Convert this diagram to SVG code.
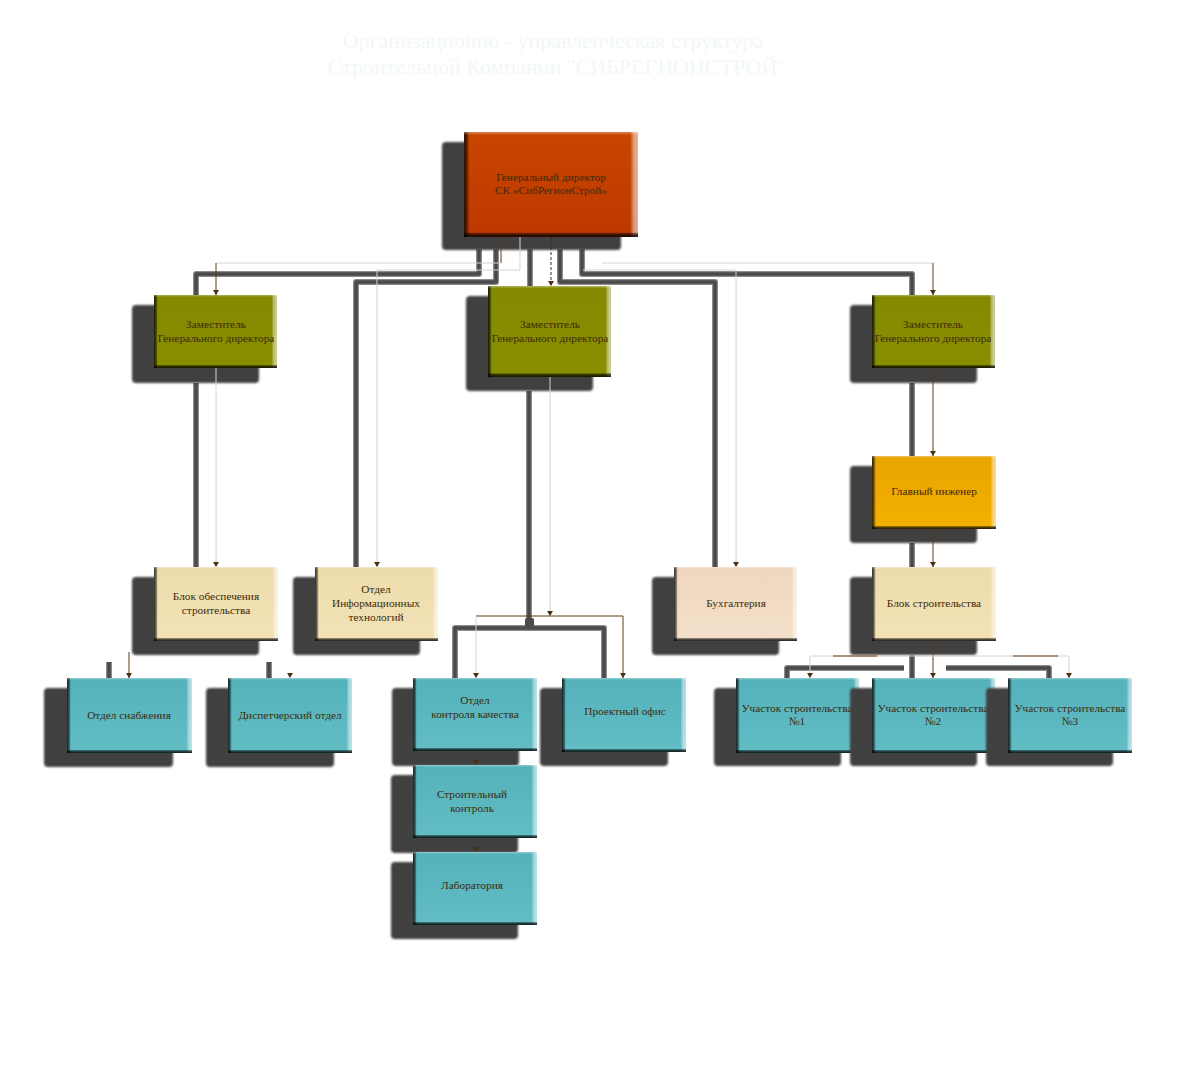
<svg xmlns="http://www.w3.org/2000/svg" width="1200" height="1080" viewBox="0 0 1200 1080">
<defs>
<style>
.title{font-family:"Liberation Serif","Times New Roman",serif;font-size:22px;fill:#f2f7f7;text-anchor:middle}
.t{font-family:"Liberation Serif","Times New Roman",serif;font-size:11.3px;fill:#3d2b0c;text-anchor:middle}
.sh{fill:#404040;filter:url(#soft)}
.red{fill:url(#gRed)}
.olive{fill:url(#gOlive)}
.gold{fill:url(#gGold)}
.tan{fill:url(#gTan)}
.peach{fill:url(#gPeach)}
.teal{fill:url(#gTeal)}
.eh{fill:url(#edgeH)}
.ev{fill:url(#edgeV)}
.thk{fill:none;stroke:#8a8a8a;stroke-width:6;stroke-linejoin:round}
.thk2{fill:none;stroke:#4a4a4a;stroke-width:3.5;stroke-linejoin:round}
.br{fill:none;stroke:#5a3a1a;stroke-width:1}
.fa{fill:none;stroke:#ddd2cc;stroke-width:1}
.no{fill:none;stroke:none}
.da{fill:none;stroke:#3a2a1a;stroke-width:1;stroke-dasharray:3 2}
</style>
<filter id="soft" x="-5%" y="-5%" width="110%" height="110%"><feGaussianBlur stdDeviation="0.8"/></filter>
<marker id="ad" markerWidth="7" markerHeight="6" refX="3.5" refY="5.5" markerUnits="userSpaceOnUse" viewBox="0 0 7 6">
<path d="M0.5,0.5 L6.5,0.5 L3.5,5.5 Z" fill="#4a3010"/>
</marker>
<linearGradient id="gRed" x1="0" y1="0" x2="0" y2="1"><stop offset="0" stop-color="#c94600"/><stop offset="1" stop-color="#bd3800"/></linearGradient>
<linearGradient id="gOlive" x1="0" y1="0" x2="0" y2="1"><stop offset="0" stop-color="#838800"/><stop offset="1" stop-color="#8a8f00"/></linearGradient>
<linearGradient id="gGold" x1="0" y1="0" x2="0" y2="1"><stop offset="0" stop-color="#eaa400"/><stop offset="1" stop-color="#f2b000"/></linearGradient>
<linearGradient id="gTan" x1="0" y1="0" x2="0" y2="1"><stop offset="0" stop-color="#eddcab"/><stop offset="1" stop-color="#f3e2b6"/></linearGradient>
<linearGradient id="gPeach" x1="0" y1="0" x2="0" y2="1"><stop offset="0" stop-color="#efd7bd"/><stop offset="1" stop-color="#f3dfca"/></linearGradient>
<linearGradient id="gTeal" x1="0" y1="0" x2="0" y2="1"><stop offset="0" stop-color="#55b2ba"/><stop offset="1" stop-color="#62bdc5"/></linearGradient>
<linearGradient id="edgeH" x1="0" y1="0" x2="1" y2="0">
<stop offset="0" stop-color="#000" stop-opacity="0.8"/><stop offset="0.018" stop-color="#000" stop-opacity="0.5"/><stop offset="0.03" stop-color="#000" stop-opacity="0"/>
<stop offset="0.955" stop-color="#fff" stop-opacity="0"/><stop offset="0.975" stop-color="#fff" stop-opacity="0.45"/><stop offset="1" stop-color="#fff" stop-opacity="0.6"/>
</linearGradient>
<linearGradient id="edgeV" x1="0" y1="0" x2="0" y2="1">
<stop offset="0" stop-color="#fff" stop-opacity="0.35"/><stop offset="0.03" stop-color="#fff" stop-opacity="0"/>
<stop offset="0.955" stop-color="#000" stop-opacity="0"/><stop offset="0.97" stop-color="#000" stop-opacity="0.6"/><stop offset="1" stop-color="#000" stop-opacity="0.85"/>
</linearGradient>
</defs>
<rect width="1200" height="1080" fill="#ffffff"/>
<g id="title">
<text class="title" x="553" y="48">Организационно - управленческая структура</text>
<text class="title" x="557" y="74">Строительной Компании "СИБРЕГИОНСТРОЙ"</text>
</g>

<g id="connector-shadows">
<g class="thk">
<polyline points="479,249 479,274 196,274 196,296"/>
<polyline points="496,249 496,282 356,282 356,568"/>
<polyline points="530,249 530,287"/>
<polyline points="560,249 560,282 715,282 715,568"/>
<polyline points="582,249 582,274 912,274 912,296"/>
<polyline points="196,383 196,568"/>
<polyline points="529,391 529,628"/>
<polyline points="455,679 455,628 604,628 604,679"/>
<polyline points="912,383 912,457"/>
<polyline points="912,543 912,568"/>
<polyline points="912,655 912,679"/>
<polyline points="787,679 787,668 904,668"/>
<polyline points="946,668 1049,668 1049,679"/>
<polyline points="109,662 109,679"/>
<polyline points="269,662 269,679"/>
</g>
<g class="thk2">
<polyline points="479,249 479,274 196,274 196,296"/>
<polyline points="496,249 496,282 356,282 356,568"/>
<polyline points="530,249 530,287"/>
<polyline points="560,249 560,282 715,282 715,568"/>
<polyline points="582,249 582,274 912,274 912,296"/>
<polyline points="196,383 196,568"/>
<polyline points="529,391 529,628"/>
<polyline points="455,679 455,628 604,628 604,679"/>
<polyline points="912,383 912,457"/>
<polyline points="912,543 912,568"/>
<polyline points="912,655 912,679"/>
<polyline points="787,679 787,668 904,668"/>
<polyline points="946,668 1049,668 1049,679"/>
<polyline points="109,662 109,679"/>
<polyline points="269,662 269,679"/>
</g>
<rect x="525" y="618" width="9" height="9" rx="2" fill="#4a4a4a"/>
</g>

<g id="n-gendir">
<rect class="sh" x="442" y="142" width="179" height="108" rx="4"/>
<rect class="red" x="464" y="132" width="174" height="105"/>
<rect class="eh" x="464" y="132" width="174" height="105"/>
<rect class="ev" x="464" y="132" width="174" height="105"/>
<text class="t" x="551" y="181">Генеральный директор</text>
<text class="t" x="551" y="194">СК «СибРегионСтрой»</text>
</g>
<g id="n-zam1">
<rect class="sh" x="132" y="305" width="127" height="78" rx="4"/>
<rect class="olive" x="154" y="295" width="123" height="73"/>
<rect class="eh" x="154" y="295" width="123" height="73"/>
<rect class="ev" x="154" y="295" width="123" height="73"/>
<text class="t" x="216" y="328">Заместитель</text>
<text class="t" x="216" y="342">Генерального директора</text>
</g>
<g id="n-zam2">
<rect class="sh" x="466" y="296" width="127" height="95" rx="4"/>
<rect class="olive" x="488" y="286" width="123" height="91"/>
<rect class="eh" x="488" y="286" width="123" height="91"/>
<rect class="ev" x="488" y="286" width="123" height="91"/>
<text class="t" x="550" y="328">Заместитель</text>
<text class="t" x="550" y="342">Генерального директора</text>
</g>
<g id="n-zam3">
<rect class="sh" x="850" y="305" width="127" height="78" rx="4"/>
<rect class="olive" x="872" y="295" width="123" height="73"/>
<rect class="eh" x="872" y="295" width="123" height="73"/>
<rect class="ev" x="872" y="295" width="123" height="73"/>
<text class="t" x="933" y="328">Заместитель</text>
<text class="t" x="933" y="342">Генерального директора</text>
</g>
<g id="n-glav">
<rect class="sh" x="850" y="466" width="127" height="77" rx="4"/>
<rect class="gold" x="872" y="456" width="124" height="73"/>
<rect class="eh" x="872" y="456" width="124" height="73"/>
<rect class="ev" x="872" y="456" width="124" height="73"/>
<text class="t" x="934" y="495">Главный инженер</text>
</g>
<g id="n-blokstroit">
<rect class="sh" x="850" y="577" width="127" height="78" rx="4"/>
<rect class="tan" x="872" y="567" width="124" height="74"/>
<rect class="eh" x="872" y="567" width="124" height="74"/>
<rect class="ev" x="872" y="567" width="124" height="74"/>
<text class="t" x="934" y="607">Блок строительства</text>
</g>
<g id="n-bukh">
<rect class="sh" x="652" y="577" width="127" height="78" rx="4"/>
<rect class="peach" x="674" y="567" width="123" height="74"/>
<rect class="eh" x="674" y="567" width="123" height="74"/>
<rect class="ev" x="674" y="567" width="123" height="74"/>
<text class="t" x="736" y="607">Бухгалтерия</text>
</g>
<g id="n-blokobesp">
<rect class="sh" x="132" y="577" width="127" height="78" rx="4"/>
<rect class="tan" x="154" y="567" width="124" height="74"/>
<rect class="eh" x="154" y="567" width="124" height="74"/>
<rect class="ev" x="154" y="567" width="124" height="74"/>
<text class="t" x="216" y="600">Блок обеспечения</text>
<text class="t" x="216" y="614">строительства</text>
</g>
<g id="n-it">
<rect class="sh" x="293" y="577" width="127" height="78" rx="4"/>
<rect class="tan" x="315" y="567" width="123" height="74"/>
<rect class="eh" x="315" y="567" width="123" height="74"/>
<rect class="ev" x="315" y="567" width="123" height="74"/>
<text class="t" x="376" y="593">Отдел</text>
<text class="t" x="376" y="607">Информационных</text>
<text class="t" x="376" y="621">технологий</text>
</g>
<g id="n-snab">
<rect class="sh" x="44" y="688" width="129" height="79" rx="4"/>
<rect class="teal" x="67" y="678" width="125" height="75"/>
<rect class="eh" x="67" y="678" width="125" height="75"/>
<rect class="ev" x="67" y="678" width="125" height="75"/>
<text class="t" x="129" y="719">Отдел снабжения</text>
</g>
<g id="n-disp">
<rect class="sh" x="206" y="688" width="128" height="79" rx="4"/>
<rect class="teal" x="228" y="678" width="124" height="75"/>
<rect class="eh" x="228" y="678" width="124" height="75"/>
<rect class="ev" x="228" y="678" width="124" height="75"/>
<text class="t" x="290" y="719">Диспетчерский отдел</text>
</g>
<g id="n-okk">
<rect class="sh" x="392" y="688" width="127" height="78" rx="4"/>
<rect class="teal" x="413" y="678" width="124" height="73"/>
<rect class="eh" x="413" y="678" width="124" height="73"/>
<rect class="ev" x="413" y="678" width="124" height="73"/>
<text class="t" x="475" y="704">Отдел</text>
<text class="t" x="475" y="718">контроля качества</text>
</g>
<g id="n-proekt">
<rect class="sh" x="540" y="688" width="128" height="78" rx="4"/>
<rect class="teal" x="562" y="678" width="124" height="74"/>
<rect class="eh" x="562" y="678" width="124" height="74"/>
<rect class="ev" x="562" y="678" width="124" height="74"/>
<text class="t" x="625" y="715">Проектный офис</text>
</g>
<g id="n-uch1">
<rect class="sh" x="714" y="688" width="127" height="78" rx="4"/>
<rect class="teal" x="736" y="678" width="123" height="75"/>
<rect class="eh" x="736" y="678" width="123" height="75"/>
<rect class="ev" x="736" y="678" width="123" height="75"/>
<text class="t" x="797" y="712">Участок строительства</text>
<text class="t" x="797" y="725">№1</text>
</g>
<g id="n-uch2">
<rect class="sh" x="850" y="688" width="127" height="78" rx="4"/>
<rect class="teal" x="872" y="678" width="123" height="75"/>
<rect class="eh" x="872" y="678" width="123" height="75"/>
<rect class="ev" x="872" y="678" width="123" height="75"/>
<text class="t" x="933" y="712">Участок строительства</text>
<text class="t" x="933" y="725">№2</text>
</g>
<g id="n-uch3">
<rect class="sh" x="986" y="688" width="127" height="78" rx="4"/>
<rect class="teal" x="1008" y="678" width="124" height="75"/>
<rect class="eh" x="1008" y="678" width="124" height="75"/>
<rect class="ev" x="1008" y="678" width="124" height="75"/>
<text class="t" x="1070" y="712">Участок строительства</text>
<text class="t" x="1070" y="725">№3</text>
</g>
<g id="n-stroikontrol">
<rect class="sh" x="391" y="775" width="127" height="78" rx="4"/>
<rect class="teal" x="413" y="765" width="124" height="73"/>
<rect class="eh" x="413" y="765" width="124" height="73"/>
<rect class="ev" x="413" y="765" width="124" height="73"/>
<text class="t" x="472" y="798">Строительный</text>
<text class="t" x="472" y="812">контроль</text>
</g>
<g id="n-lab">
<rect class="sh" x="391" y="862" width="127" height="77" rx="4"/>
<rect class="teal" x="413" y="852" width="124" height="73"/>
<rect class="eh" x="413" y="852" width="124" height="73"/>
<rect class="ev" x="413" y="852" width="124" height="73"/>
<text class="t" x="472" y="889">Лаборатория</text>
</g>

<g id="connectors">
<polyline class="br" points="501,237 501,263"/>
<polyline class="fa" points="501,263 216,263"/>
<polyline class="br" points="216,263 216,295" marker-end="url(#ad)"/>
<polyline class="fa" points="520,237 520,270 377,270 377,567" marker-end="url(#ad)"/>
<polyline class="da" points="551,237 551,286" marker-end="url(#ad)"/>
<polyline class="fa" points="602,263 933,263"/>
<polyline class="br" points="933,263 933,295" marker-end="url(#ad)"/>
<polyline class="fa" points="583,270 736,270 736,567" marker-end="url(#ad)"/>
<polyline class="fa" points="216,368 216,567" marker-end="url(#ad)"/>
<polyline class="fa" points="550,377 550,616" marker-end="url(#ad)"/>
<polyline class="br" points="476,616 623,616 623,678" marker-end="url(#ad)"/>
<polyline class="fa" points="476,616 476,678" marker-end="url(#ad)"/>
<polyline class="br" points="933,368 933,456" marker-end="url(#ad)"/>
<polyline class="br" points="933,529 933,567" marker-end="url(#ad)"/>
<polyline class="br" points="933,641 933,678" marker-end="url(#ad)"/>
<polyline class="fa" points="810,656 1069,656"/>
<polyline class="fa" points="810,656 810,678" marker-end="url(#ad)"/>
<polyline class="fa" points="1069,656 1069,678" marker-end="url(#ad)"/>
<polyline class="br" points="833,656 877,656"/>
<polyline class="br" points="1013,656 1058,656"/>
<polyline class="br" points="129,652 129,678" marker-end="url(#ad)"/>
<polyline class="no" points="290,660 290,678" marker-end="url(#ad)"/>
<polyline class="no" points="476,751 476,765" marker-end="url(#ad)"/>
<polyline class="no" points="476,838 476,852" marker-end="url(#ad)"/>
</g>
</svg>
